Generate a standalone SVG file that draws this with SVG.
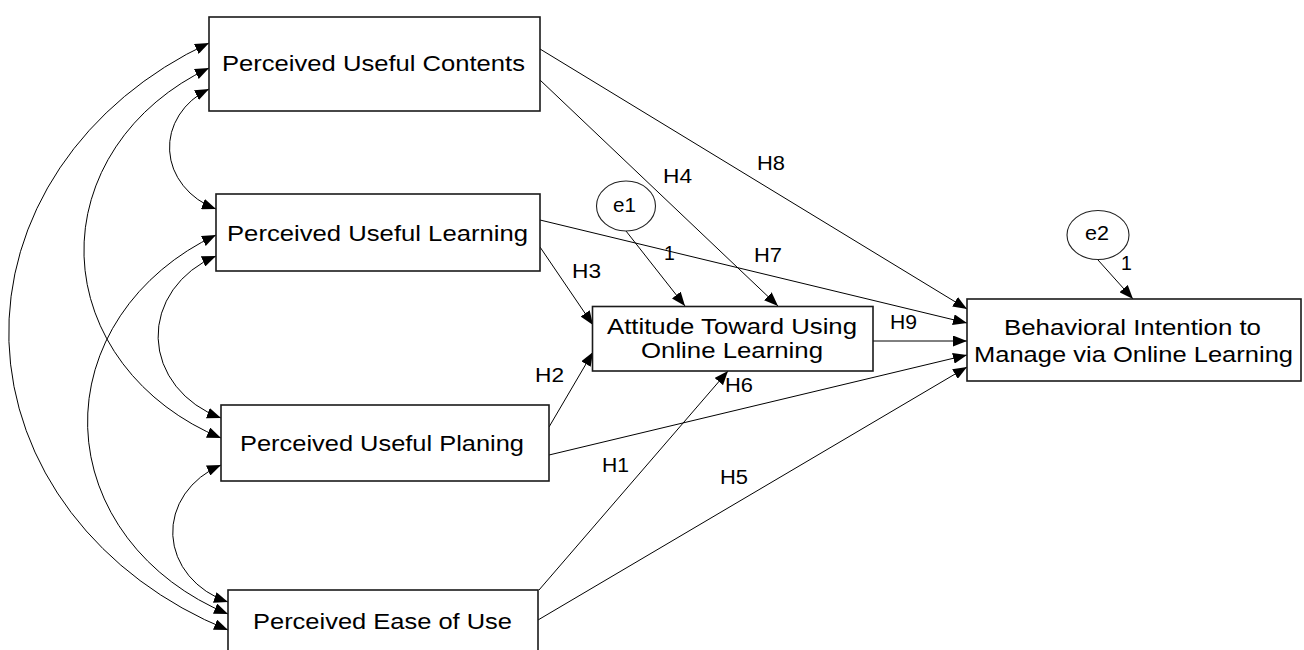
<svg xmlns="http://www.w3.org/2000/svg" width="1304" height="650" viewBox="0 0 1304 650">
  <defs>
    <marker id="head" markerUnits="userSpaceOnUse" markerWidth="15" markerHeight="11" refX="14" refY="5.5" orient="auto-start-reverse">
      <path d="M0,0 L14,5.5 L0,11 z" fill="#000"/>
    </marker>
    <style>
      .box { fill: #fff; stroke: #1a1a1a; stroke-width: 1.6; }
      .err { fill: #fff; stroke: #222; stroke-width: 1.1; }
      .txt { font-family: "Liberation Sans", Arial, sans-serif; font-size: 22px; fill: #000; }
      .lbl { font-family: "Liberation Sans", Arial, sans-serif; font-size: 19.5px; fill: #000; }
      .path { fill: none; stroke: #000; stroke-width: 1; marker-end: url(#head); }
      .cov { fill: none; stroke: #000; stroke-width: 1; marker-start: url(#head); marker-end: url(#head); }
    </style>
  </defs>
  <rect width="1304" height="650" fill="#fff"/>

  <!-- connectors: covariances (double-headed arcs) and regression paths -->
  <g id="connectors">
    <path class="cov" d="M209,43 A382,329 0 0 0 228,630"/>
    <path class="cov" d="M209,68 A241,208 0 0 0 221,438"/>
    <path class="cov" d="M216,235 A247,213 0 0 0 228,614"/>
    <path class="cov" d="M209,89 A77,67 0 0 0 216,209"/>
    <path class="cov" d="M216,256 A103,89 0 0 0 221,418"/>
    <path class="cov" d="M221,465 A87,75 0 0 0 228,602"/>

    <path class="path" d="M540,49 L967,309"/>
    <path class="path" d="M540,80 L778,306"/>
    <path class="path" d="M540,220 L967,323"/>
    <path class="path" d="M540,247 L593,325"/>
    <path class="path" d="M626,231 L685,306"/>
    <path class="path" d="M549,427 L593,352"/>
    <path class="path" d="M549,455 L967,355"/>
    <path class="path" d="M539,590 L728,371"/>
    <path class="path" d="M538,620 L967,367"/>
    <path class="path" d="M873,341 L967,341"/>
    <path class="path" d="M1098,260 L1133,299"/>

    <g id="labels">
      <text class="lbl" x="757" y="170" textLength="28" lengthAdjust="spacingAndGlyphs">H8</text>
      <text class="lbl" x="663" y="183" textLength="29" lengthAdjust="spacingAndGlyphs">H4</text>
      <text class="lbl" x="754" y="262" textLength="28" lengthAdjust="spacingAndGlyphs">H7</text>
      <text class="lbl" x="664" y="260">1</text>
      <text class="lbl" x="572" y="278" textLength="29" lengthAdjust="spacingAndGlyphs">H3</text>
      <text class="lbl" x="890" y="329" textLength="27" lengthAdjust="spacingAndGlyphs">H9</text>
      <text class="lbl" x="535" y="382" textLength="29" lengthAdjust="spacingAndGlyphs">H2</text>
      <text class="lbl" x="725" y="392" textLength="28" lengthAdjust="spacingAndGlyphs">H6</text>
      <text class="lbl" x="602" y="472" textLength="27" lengthAdjust="spacingAndGlyphs">H1</text>
      <text class="lbl" x="720" y="484" textLength="28" lengthAdjust="spacingAndGlyphs">H5</text>
      <text class="lbl" x="1121" y="270">1</text>
    </g>
  </g>

  <g id="puc">
    <rect class="box" x="209" y="17" width="331" height="94"/>
    <text class="txt" x="222" y="71" textLength="303" lengthAdjust="spacingAndGlyphs">Perceived Useful Contents</text>
  </g>
  <g id="pul">
    <rect class="box" x="216" y="194" width="324" height="77"/>
    <text class="txt" x="227" y="241" textLength="301" lengthAdjust="spacingAndGlyphs">Perceived Useful Learning</text>
  </g>
  <g id="pup">
    <rect class="box" x="221" y="405" width="328" height="76"/>
    <text class="txt" x="240" y="451" textLength="284" lengthAdjust="spacingAndGlyphs">Perceived Useful Planing</text>
  </g>
  <g id="peu">
    <rect class="box" x="228" y="590" width="310" height="80"/>
    <text class="txt" x="253" y="629" textLength="259" lengthAdjust="spacingAndGlyphs">Perceived Ease of Use</text>
  </g>
  <g id="attitude">
    <rect class="box" x="592.5" y="306.5" width="280.5" height="64.5"/>
    <text class="txt" x="607" y="334" textLength="250" lengthAdjust="spacingAndGlyphs">Attitude Toward Using</text>
    <text class="txt" x="641" y="358" textLength="182" lengthAdjust="spacingAndGlyphs">Online Learning</text>
  </g>
  <g id="intention">
    <rect class="box" x="967" y="299" width="334" height="82"/>
    <text class="txt" x="1004" y="335" textLength="257" lengthAdjust="spacingAndGlyphs">Behavioral Intention to</text>
    <text class="txt" x="974" y="362" textLength="319" lengthAdjust="spacingAndGlyphs">Manage via Online Learning</text>
  </g>
  <g id="e1">
    <ellipse class="err" cx="626" cy="206" rx="29.5" ry="25"/>
    <text class="lbl" x="613" y="212" textLength="23" lengthAdjust="spacingAndGlyphs">e1</text>
  </g>
  <g id="e2">
    <ellipse class="err" cx="1098" cy="235" rx="31" ry="24.5"/>
    <text class="lbl" x="1085" y="240" textLength="24" lengthAdjust="spacingAndGlyphs">e2</text>
  </g>
</svg>
